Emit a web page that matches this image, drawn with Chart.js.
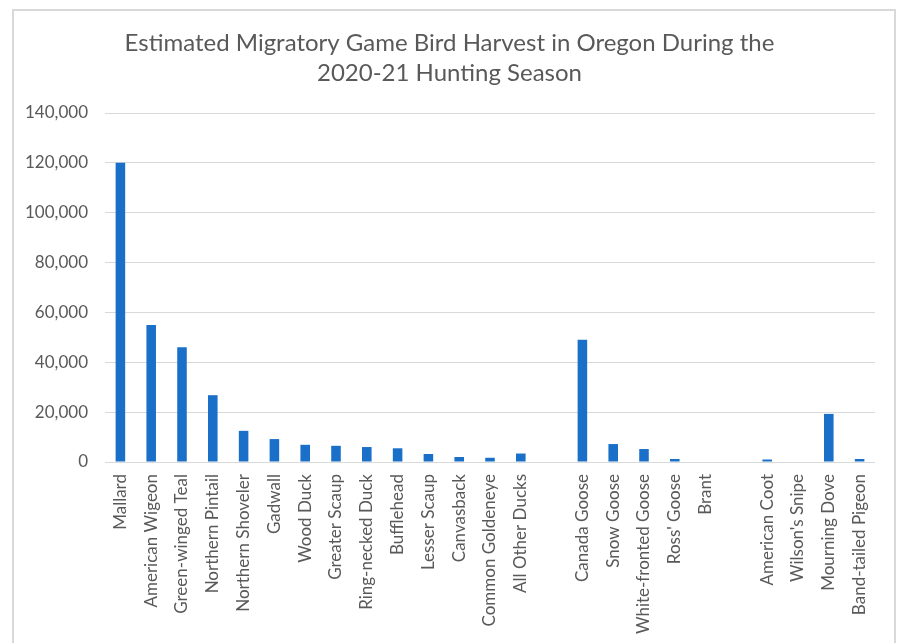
<!DOCTYPE html>
<html>
<head>
<meta charset="utf-8">
<script src="https://cdn.jsdelivr.net/npm/chart.js@4.4.1/dist/chart.umd.min.js"></script>
<style>
  html, body { margin: 0; padding: 0; background: #fff; overflow: hidden; }
  #frame {
    position: absolute; left: 12px; top: 9px;
    width: 880px; height: 640px;
    border: 2px solid #d9d9d9; border-bottom: none;
  }
</style>
</head>
<body>
<div id="frame"><canvas id="harvest" width="880" height="634"></canvas></div>
<script>
// species on the x axis, blank slots separate ducks / geese / others
const species = [
  "Mallard", "American Wigeon", "Green-winged Teal", "Northern Pintail",
  "Northern Shoveler", "Gadwall", "Wood Duck", "Greater Scaup",
  "Ring-necked Duck", "Bufflehead", "Lesser Scaup", "Canvasback",
  "Common Goldeneye", "All Other Ducks", "",
  "Canada Goose", "Snow Goose", "White-fronted Goose", "Ross' Goose", "Brant", "",
  "American Coot", "Wilson's Snipe", "Mourning Dove", "Band-tailed Pigeon"
];
const harvest = [
  120000, 55000, 46000, 26800,
  12500, 9200, 6900, 6500,
  6000, 5500, 3200, 2000,
  1700, 3400, null,
  49000, 7200, 5200, 1200, 0, null,
  1000, 0, 19300, 1200
];
const yTicks = [0, 20000, 40000, 60000, 80000, 100000, 120000, 140000];
const titleLines = [
  "Estimated Migratory Game Bird Harvest in Oregon During the",
  "2020-21 Hunting Season"
];

const textColor = "#595959";
const font = "Lato";

new Chart(document.getElementById("harvest"), {
  type: "bar",
  data: {
    labels: species,
    datasets: [{
      data: harvest,
      backgroundColor: "#1a6fc9",
      barPercentage: 0.31,
      categoryPercentage: 1
    }]
  },
  options: {
    responsive: false,
    animation: false,
    // a bit of left padding pulls the title towards the frame's centre
    layout: { padding: { left: 10, right: 19, top: 0, bottom: 0 } },
    plugins: {
      legend: { display: false },
      tooltip: { enabled: false },
      title: {
        display: true,
        text: titleLines,
        color: textColor,
        font: { family: font, size: 24, weight: "normal", lineHeight: 30 / 24 },
        padding: { top: 17, bottom: 25 }
      }
    },
    scales: {
      x: {
        offset: true,
        grid: { display: false, drawTicks: false },
        border: { display: false },
        ticks: {
          color: textColor,
          font: { family: font, size: 17 },
          minRotation: 90,
          maxRotation: 90,
          autoSkip: false,
          padding: 12
        },
        afterFit: s => { s.height = 183; }
      },
      y: {
        min: 0,
        max: yTicks[yTicks.length - 1],
        grid: { color: "#d9d9d9", lineWidth: 1, drawTicks: false },
        border: { display: false },
        ticks: {
          stepSize: yTicks[1] - yTicks[0],
          color: textColor,
          font: { family: font, size: 17 },
          padding: 17,
          callback: v => v.toLocaleString("en-US")
        },
        afterFit: s => { s.width = 81; }
      }
    }
  }
});
</script>
</body>
</html>
